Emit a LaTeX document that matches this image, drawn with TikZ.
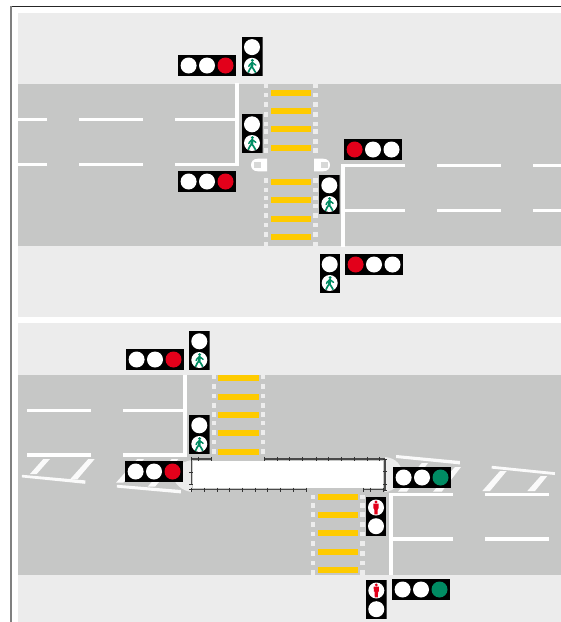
\documentclass[tikz,border=0pt]{standalone}
\definecolor{side}{HTML}{ECECEC}
\definecolor{road}{HTML}{C6C7C6}
\definecolor{stripe}{HTML}{FECB00}
\definecolor{stopred}{HTML}{E2001A}
\definecolor{gogreen}{HTML}{008C63}
\definecolor{dotc}{HTML}{EDEDED}
\definecolor{edgeg}{HTML}{4A4A4A}
\tikzset{
  wline/.style={fill=white},
  ybar/.style={fill=stripe},
  cdot/.style={fill=dotc},
  diag/.style={fill=white,opacity=.92},
  bord/.style={edgeg,line width=1.4pt},
  tick/.style={black!80,line width=.9pt}
}
\newcommand{\headH}[5]{%
  \begin{scope}[shift={(#1,#2)}]
    \fill[black] (0,0) rectangle (58,21);
    \fill[#3] (10.6,10.5) circle (8);
    \fill[#4] (29,10.5) circle (8);
    \fill[#5] (47.5,10.5) circle (8);
  \end{scope}}
\newcommand{\walker}{%
  \begin{scope}[gogreen]
    \fill (0.4,-5.4) circle (1.6);
    \draw[line width=2.8pt,line cap=round] (0.2,-2.9) -- (-0.2,0.6);
    \draw[line width=1.7pt,line cap=round,line join=round] (-0.2,0.8) -- (-2.2,3.4) -- (-3.6,6.3);
    \draw[line width=1.7pt,line cap=round,line join=round] (-0.2,0.8) -- (1.6,3.4) -- (3.3,6.3);
    \draw[line width=1.4pt,line cap=round,line join=round] (0.2,-3.4) -- (-2.5,-1) -- (-3.2,0.6);
    \draw[line width=1.4pt,line cap=round,line join=round] (0.2,-3.4) -- (2.6,-1.6) -- (3.8,-0.6);
  \end{scope}}
\newcommand{\stander}{%
  \begin{scope}[stopred]
    \fill (0,-5.6) circle (1.6);
    \fill (-2.6,-4) -- (2.6,-4) -- (2.5,1.2) -- (1.8,1.2) -- (1.5,6.8) -- (0.2,6.8) -- (0,2) -- (-0.2,6.8) -- (-1.5,6.8) -- (-1.8,1.2) -- (-2.5,1.2) -- cycle;
  \end{scope}}
\newcommand{\headWalk}[2]{%
  \begin{scope}[shift={(#1,#2)}]
    \fill[black!70] (0,0) rectangle (20.6,39.4);
    \fill[black] (0,0) rectangle (20,39);
    \fill[white] (10,10.3) circle (8);
    \fill[white] (10,29) circle (8);
    \begin{scope}[shift={(10,29)}]\walker\end{scope}
  \end{scope}}
\newcommand{\headStand}[2]{%
  \begin{scope}[shift={(#1,#2)}]
    \fill[black!70] (0,0) rectangle (20.6,39.4);
    \fill[black] (0,0) rectangle (20,39);
    \fill[white] (10.3,10.5) circle (8);
    \fill[white] (10.3,29.2) circle (8);
    \begin{scope}[shift={(10.3,10.5)}]\stander\end{scope}
  \end{scope}}
\newcommand{\wbar}[3]{\fill[wline] (#1,#3) rectangle (#2,#3+3);}
\newcommand{\ybr}[3]{\fill[ybar] (#1,#3) rectangle (#2,#3+6);}
\newcommand{\cdt}[2]{\fill[cdot] (#1-2.3,#2-2.3) rectangle (#1+2.3,#2+2.3);}
\newcommand{\slantmark}[8]{\fill[diag] (#1,#2) -- (#3,#4) -- (#5,#6) -- (#7,#8) -- cycle;}
\begin{document}
\begin{tikzpicture}[x=1pt,y=-1pt]
\useasboundingbox (0,0) rectangle (561,622);
\fill[white] (0,0) rectangle (561,622);
% frame
\fill[black!85] (10,5.6) rectangle (561,6.8);
\fill[black!50] (10,5.6) rectangle (12,622);
% ---------- upper scene ----------
\fill[side] (18,13) rectangle (561,317);
\fill[road] (18,84) rectangle (561,246);
% left stop lines
\fill[wline] (235,83) rectangle (239,166.4);
\wbar{175}{236}{118}
\fill[wline] (175,163) rectangle (239,166.4);
\wbar{18}{47}{118}
\wbar{79}{143}{118}
\wbar{18}{47}{163}
\wbar{79}{143}{163}
% right stop lines
\fill[wline] (341,164) rectangle (345,246.6);
\fill[wline] (341,164) rectangle (405,167);
\wbar{345}{405}{209}
\wbar{437}{501}{164.3}
\wbar{533}{561}{164.3}
\wbar{437}{501}{209}
\wbar{533}{561}{209}
% crossing
\foreach \yy in {90,108,126,145,179.3,197.3,216,233.7} {\ybr{271.3}{311.3}{\yy}}
\foreach \yy in {85.9,95,104.7,114.3,124,131.7,141.3,150.7,180.7,190,198,206,215.7,225,234.7,244} {\cdt{266}{\yy}\cdt{315.3}{\yy}}
% kerb bumps
\fill[white] (267,158.7) -- (258,158.7) .. controls (253,158.7) and (251,162) .. (251,165) .. controls (251,168) and (253,171.3) .. (258,171.3) -- (267,171.3) -- cycle;
\fill[white] (314,158.7) -- (323,158.7) .. controls (328,158.7) and (330,162) .. (330,165) .. controls (330,168) and (328,171.3) .. (323,171.3) -- (314,171.3) -- cycle;
\fill[road!70!white] (253.7,161.7) rectangle (260.7,168.3);
\fill[road!70!white] (320.7,161.7) rectangle (327.7,168.3);
% signal heads
\headH{178}{55}{white}{white}{stopred}
\headWalk{242}{36.8}
\headWalk{242}{114}
\headH{178}{171}{white}{white}{stopred}
\headH{344}{139}{stopred}{white}{white}
\headWalk{319.3}{175}
\headWalk{319.7}{254}
\headH{345}{254}{stopred}{white}{white}
% ---------- lower scene ----------
\fill[side] (18,323) rectangle (561,622);
\fill[road] (18,375) rectangle (561,575);
% islands
\fill[side] (192,460) .. controls (180,462) and (173,468) .. (173.3,476) .. controls (174,484) and (182,491) .. (192,492) -- cycle;
\fill[side] (385,457) .. controls (396,458) and (402,465) .. (402,474) .. controls (402,484) and (394,491) .. (385,492) -- cycle;
% left lane marks
\fill[wline] (183,375) rectangle (187,456.7);
\fill[wline] (123,409) rectangle (184,412);
\fill[wline] (123,453) rectangle (187,456.7);
\fill[wline] (27,409) rectangle (91,412);
\fill[wline] (27,453) rectangle (91,457);
% slanted markings, left
\slantmark{22}{474.8}{85.5}{480.4}{85.2}{483.8}{21.8}{477.4}
\slantmark{43.3}{459}{50}{459}{36.7}{474}{30}{474}
\slantmark{88.3}{459}{94.7}{459}{77.3}{479.4}{70}{479.4}
\slantmark{117}{484.8}{181}{490}{180.8}{493.4}{116.8}{487.6}
\slantmark{137.3}{459}{144}{459}{123.3}{482.7}{116}{482.7}
\slantmark{171.7}{459}{178.3}{459}{155}{486.7}{147.7}{486.7}
% slanted markings, right
\slantmark{396.2}{455}{460}{461}{459.8}{464.4}{396}{458}
\slantmark{491.8}{465.8}{555}{472.2}{554.8}{475}{491.6}{468.6}
\slantmark{421.7}{463}{428}{463}{406.7}{491.7}{398}{491.7}
\slantmark{455}{467}{461}{467}{441.7}{491.7}{433}{491.7}
\slantmark{500}{471}{506.7}{471}{490}{491}{482.3}{491}
\slantmark{540.7}{476}{547.3}{476}{535}{491}{527.3}{491}
% right lane marks
\fill[wline] (389,493) rectangle (393,575);
\fill[wline] (389,493) rectangle (453,496);
\fill[wline] (393,537) rectangle (453,541);
\fill[wline] (485,493) rectangle (549,496);
\fill[wline] (485,537) rectangle (549,541);
% upper crossing
\foreach \yy in {375.3,394,412,430,449} {\ybr{218}{259.3}{\yy}}
\foreach \yy in {377,386.3,396,405.3,414.7,423,432.7,442,451.7} {\cdt{213.8}{\yy}\cdt{263.1}{\yy}}
% lower crossing
\foreach \yy in {494,512,530,549.3,567.3} {\ybr{318}{358}{\yy}}
\foreach \yy in {497,505.3,514.7,524.3,534,543.3,553.7,563,572.7} {\cdt{312.8}{\yy}\cdt{362.2}{\yy}}
% refuge
\fill[white] (193,460.5) rectangle (383,487.5);
\draw[bord] (191.2,458.8) -- (211,458.8);
\draw[bord] (264.3,458.8) -- (385,458.8);
\draw[bord] (191.2,458.8) -- (191.2,484.5);
\draw[bord] (385,458.8) -- (385,490);
\draw[bord] (191.2,489.6) -- (306.5,489.6);
\draw[bord] (363.3,489.6) -- (385,489.6);
\foreach \xx in {191.7,198.3,211,264.3,277.1,289.9,302.7,316,328.7,341.5,354.2,367,379.5} {\draw[tick] (\xx,456.8) -- (\xx,460.8);}
\foreach \xx in {191.7,204.4,217.1,229.8,242.5,255.2,267.9,280.6,293.3,306} {\draw[tick] (\xx,487.6) -- (\xx,491.6);}
\foreach \xx in {363.3,370,383} {\draw[tick] (\xx,487.6) -- (\xx,491.6);}
\foreach \yy in {472,484.3,489.6} {\draw[tick] (189.4,\yy) -- (193,\yy);}
\foreach \yy in {459,471.7,484.3,490} {\draw[tick] (383.2,\yy) -- (386.8,\yy);}
% signal heads
\headH{126}{349}{white}{white}{stopred}
\headWalk{189.3}{331}
\headWalk{189.3}{415}
\headH{125}{461}{white}{white}{stopred}
\headStand{365.7}{497}
\headStand{366}{580}
\headH{393}{467}{white}{white}{gogreen}
\headH{392}{579}{white}{white}{gogreen}
\end{tikzpicture}
\end{document}
